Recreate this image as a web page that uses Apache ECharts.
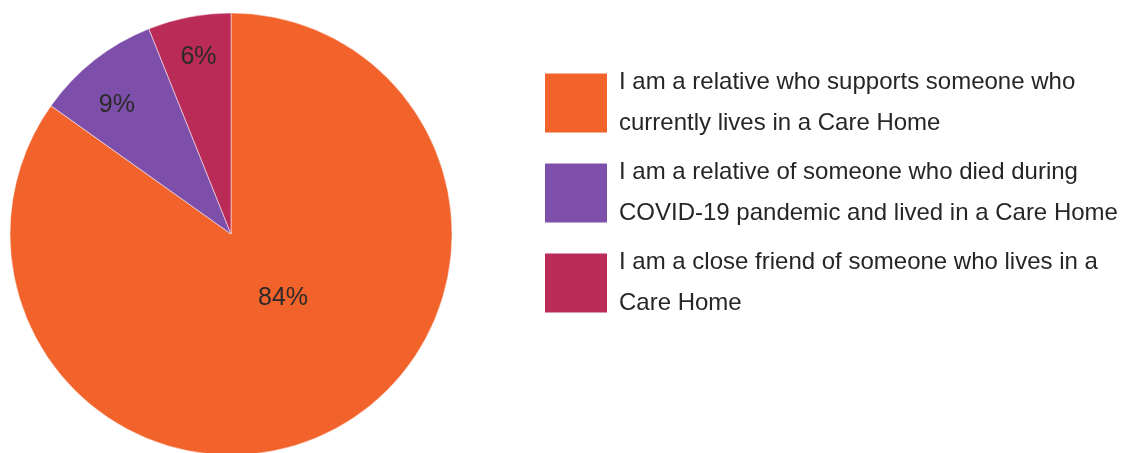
<!DOCTYPE html>
<html>
<head>
<meta charset="utf-8">
<script src="https://cdn.jsdelivr.net/npm/echarts@6/dist/echarts.min.js"></script>
<style>
  html, body { margin: 0; padding: 0; background: #ffffff; }
  #chart { width: 1125px; height: 453px; }
</style>
</head>
<body>
<div id="chart"></div>
<script>
// Respondent groups and their shares (%)
const categories = [
  'I am a relative who supports someone who\ncurrently lives in a Care Home',
  'I am a relative of someone who died during\nCOVID-19 pandemic and lived in a Care Home',
  'I am a close friend of someone who lives in a\nCare Home'
];
const shares = [84, 9, 6];
const colors = ['#F2622B', '#7E4FAA', '#BA2B58'];
// per-slice nudges for the percentage labels
const labelOffsets = [[0, -37], [-44, -40], [-11, -65]];

const chart = echarts.init(document.getElementById('chart'), null, { renderer: 'canvas' });

chart.setOption({
  animation: false,
  color: colors,
  legend: {
    orient: 'vertical',
    left: 543,
    top: 62,
    padding: 0,
    itemWidth: 64,
    itemHeight: 61,
    itemGap: 8,
    icon: 'rect',
    selectedMode: false,
    textStyle: {
      fontFamily: 'Liberation Sans, Arial, sans-serif',
      fontSize: 24,
      lineHeight: 41,
      color: '#262626',
      padding: [0, 0, 0, 6]
    }
  },
  series: [{
    type: 'pie',
    center: [231, 234],
    radius: [0, 221],
    startAngle: 90,
    clockwise: true,
    avoidLabelOverlap: false,
    itemStyle: { borderColor: '#ffffff', borderWidth: 0.5 },
    label: {
      show: true,
      position: 'inside',
      formatter: '{c}%',
      fontFamily: 'Liberation Sans, Arial, sans-serif',
      fontSize: 25,
      color: '#2a2a2a'
    },
    labelLine: { show: false },
    emphasis: { disabled: true },
    data: categories.map((name, i) => ({
      name: name,
      value: shares[i],
      label: { offset: labelOffsets[i] }
    }))
  }]
});
</script>
</body>
</html>
